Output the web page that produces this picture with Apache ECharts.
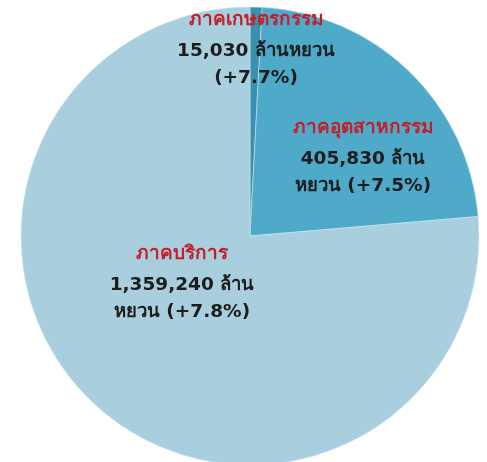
<!DOCTYPE html>
<html>
<head>
<meta charset="utf-8">
<script src="https://cdn.jsdelivr.net/npm/echarts@6/dist/echarts.min.js"></script>
<style>
  html, body { margin: 0; padding: 0; background: #ffffff; }
  #chart { width: 487px; height: 462px; }
</style>
</head>
<body>
<div id="chart"></div>
<script>
// Sector output, clockwise from 12 o'clock
const sectors = ['ภาคเกษตรกรรม', 'ภาคอุตสาหกรรม', 'ภาคบริการ'];
const values = [15030, 405830, 1359240];            // ล้านหยวน
const growth = [7.7, 7.5, 7.8];                      // % change
// where each value line wraps: [first line suffix, second line prefix]
const unitSplit = [['ล้านหยวน', ''], ['ล้าน', 'หยวน '], ['ล้าน', 'หยวน ']];

const sliceColors = ['#3b90b2', '#4eaac8', '#a9cfdf'];
// top-centre anchor (px) of each slice's label block
const labelAnchors = [[256, 2], [363, 110], [182, 236]];

const fmt = n => n.toLocaleString('en-US');

const chart = echarts.init(document.getElementById('chart'), null, { renderer: 'canvas' });

chart.setOption({
  animation: false,
  backgroundColor: '#ffffff',
  series: [{
    type: 'pie',
    center: [250, 236],
    radius: [0, 229],
    startAngle: 90,
    clockwise: true,
    silent: true,
    itemStyle: { borderColor: '#c9e3ee', borderWidth: 0.6 },
    data: sectors.map((s, i) => ({
      name: s,
      value: values[i],
      itemStyle: { color: sliceColors[i] }
    })),
    label: {
      show: true,
      position: 'inside',
      formatter: p => {
        const i = p.dataIndex;
        const u = unitSplit[i];
        return '{t|' + sectors[i] + '}\n' +
          '{v|' + fmt(values[i]) + ' ' + u[0] + '}\n' +
          '{v|' + u[1] + '(+' + growth[i] + '%)}';
      },
      rich: {
        t: { fontFamily: 'DejaVu Sans, sans-serif', fontSize: 19, fontWeight: 'bold', color: '#c41e2b', lineHeight: 36, align: 'center' },
        v: { fontFamily: 'DejaVu Sans, sans-serif', fontSize: 18.5, fontWeight: 'bold', color: '#1c1c1c', lineHeight: 27, align: 'center' }
      }
    },
    labelLine: { show: false },
    labelLayout: params => {
      const a = labelAnchors[params.dataIndex];
      return { x: a[0], y: a[1], align: 'center', verticalAlign: 'top' };
    }
  }]
});
</script>
</body>
</html>
